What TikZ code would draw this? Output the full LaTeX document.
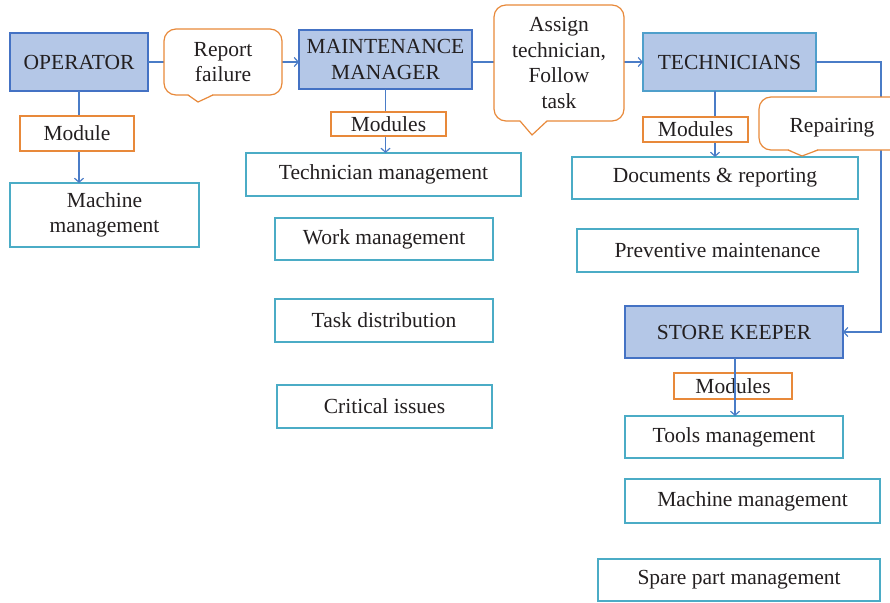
\documentclass[tikz,border=0pt]{standalone}
\usepackage{fontspec}
\setmainfont{Liberation Serif}
\usetikzlibrary{arrows.meta}
\definecolor{hdfill}{HTML}{B4C7E7}
\definecolor{hdline}{HTML}{4472C4}
\definecolor{mdline}{HTML}{4BACC6}
\definecolor{techline}{HTML}{4F9FCB}
\definecolor{orng}{HTML}{E8893A}
\definecolor{connc}{HTML}{4A7CC7}
\definecolor{txt}{HTML}{231F20}
\begin{document}
\begin{tikzpicture}[x=1pt,y=-1pt,
 every node/.style={font=\fontsize{21.5}{25.5}\selectfont, text=txt, inner sep=0pt, outer sep=0pt, align=center, anchor=north west},
 head/.style={draw=hdline, fill=hdfill, line width=1.5pt},
 modbox/.style={draw=mdline, fill=white, line width=1.3pt},
 tag/.style={draw=orng, fill=white, line width=1.2pt},
 callbox/.style={draw=orng, fill=white, line width=1.2pt, rounded corners=12pt},
 link/.style={draw=connc, line width=1.2pt},
 arr/.style={link, -{Straight Barb[length=4pt,width=9pt]}},
 ptrfill/.style={fill=white},
 ptrline/.style={draw=orng, line width=1.2pt, line join=round}
]
\clip (0,0) rectangle (890,602);
\fill[white] (0,0) rectangle (890,602);

% headers
\node[head, minimum width=138pt, minimum height=58pt] (op) at (10,33) {OPERATOR};
\node[head, minimum width=173pt, minimum height=59pt] (mm) at (299,30) {MAINTENANCE\\MANAGER};
\node[head, draw=techline, minimum width=173pt, minimum height=58pt] (tech) at (643,33) {TECHNICIANS};
\node[head, minimum width=218pt, minimum height=52pt] (sk) at (625,306) {STORE KEEPER};

% module boxes
\node[modbox, minimum width=189pt, minimum height=64pt] (mach1) at (10,183) {Machine\\management};
\node[modbox, minimum width=275pt, minimum height=43pt] (tm) at (246,153) {Technician management};
\node[modbox, minimum width=218pt, minimum height=42pt] (wm) at (275,218) {Work management};
\node[modbox, minimum width=218pt, minimum height=43pt] (td) at (275,299) {Task distribution};
\node[modbox, minimum width=215pt, minimum height=43pt] (ci) at (277,385) {Critical issues};
\node[modbox, minimum width=286pt, minimum height=42pt] (doc) at (572,157) {Documents \& reporting};
\node[modbox, minimum width=281pt, minimum height=43pt] (prev) at (577,229) {Preventive maintenance};
\node[modbox, minimum width=218pt, minimum height=42pt] (tools) at (625,416) {Tools management};
\node[modbox, minimum width=255pt, minimum height=44pt] (mach2) at (625,479) {Machine management};
\node[modbox, minimum width=282pt, minimum height=42pt] (spare) at (598,559) {Spare part management};

% connectors
\draw[arr] (op.east) -- (op.east -| mm.west);
\draw[arr] (tech.west -| mm.east) -- (tech.west);
\draw[arr] (op.south) -- (op.south |- mach1.north);
\draw[arr] (mm.south) -- (mm.south |- tm.north);
\draw[arr] ([xshift=-14.5pt]tech.south) -- ([xshift=-14.5pt]tech.south |- doc.north);
\draw[arr] (tech.east) -- ++(65,0) |- (sk.east);

% orange tags
\node[tag, minimum width=114pt, minimum height=35pt] (tmod) at (20,116) {Module};
\node[tag, minimum width=115pt, minimum height=24pt] (mmods) at (331,112) {Modules};
\node[tag, minimum width=105pt, minimum height=25pt] (tmods) at (643,117) {Modules};
\node[tag, minimum width=118pt, minimum height=26pt] (skmods) at (674,373) {Modules};
\draw[arr] ([xshift=1pt]sk.south) -- ([xshift=1pt]sk.south |- tools.north);

% callouts
\node[callbox, minimum width=118pt, minimum height=66pt] (rf) at (164,29) {Report\\failure};
\fill[ptrfill] (188,94) -- (198,102) -- (213,94) -- cycle;
\draw[ptrline] (188,95) -- (198,102) -- (213,95);

\node[callbox, minimum width=130pt, minimum height=116pt] (asg) at (494,5) {Assign\\technician,\\Follow\\task};
\fill[ptrfill] (520,120) -- (532,135) -- (547,120) -- cycle;
\draw[ptrline] (520,121) -- (532,135) -- (547,121);

\node[callbox, minimum width=146pt, minimum height=53pt] (rep) at (759,97) {\raisebox{-4pt}[14pt][5pt]{Repairing}};
\fill[ptrfill] (788,149) -- (802,156) -- (818,149) -- cycle;
\draw[ptrline] (788,150) -- (802,156) -- (818,150);
\end{tikzpicture}
\end{document}
